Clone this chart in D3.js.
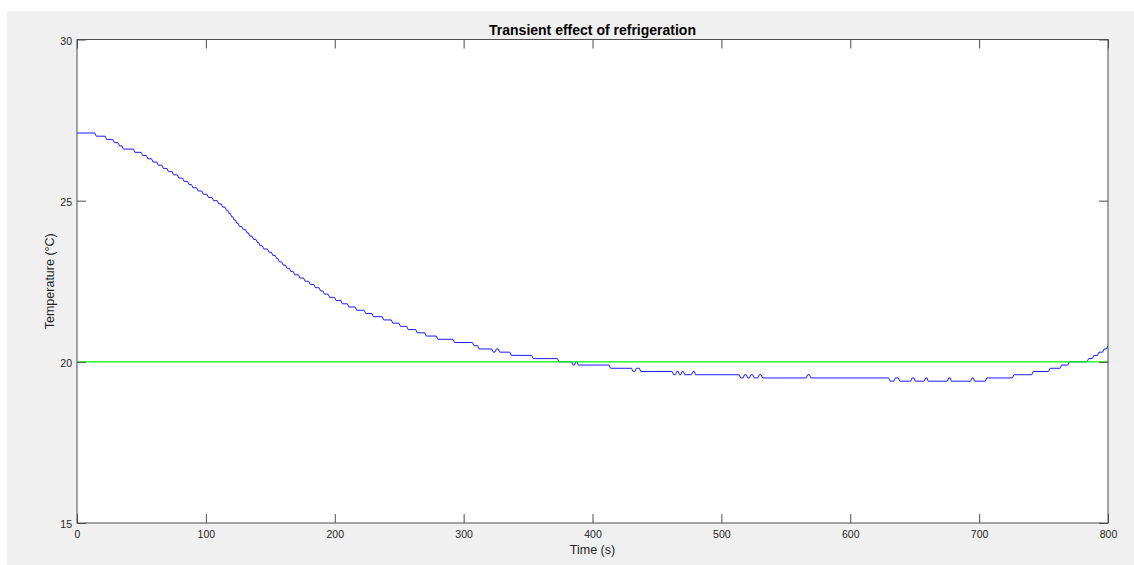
<!DOCTYPE html>
<html>
<head>
<meta charset="utf-8">
<script src="https://cdn.jsdelivr.net/npm/d3@7"></script>
<style>
  html, body { margin: 0; padding: 0; background: #ffffff; }
  svg { display: block; }
</style>
</head>
<body>
<svg id="chart" width="1134" height="565"></svg>
<script>
// ---- data ----
const title = "Transient effect of refrigeration";
const xLabel = "Time (s)";
const yLabel = "Temperature (°C)";
const xTicks = [0, 100, 200, 300, 400, 500, 600, 700, 800];
const yTicks = [15, 20, 25, 30];
const xDomain = [0, 800];
const yDomain = [15, 30];

// measured temperature: start time of each plateau (s) and its value (°C)
const stepTime = [
  0, 15, 23, 29, 33, 36, 45, 51, 55, 59, 63, 67, 71, 75, 79, 83, 87, 90, 94, 98,
  102, 106, 110, 113, 116, 118, 120, 122, 124, 126, 129, 132, 134, 137, 140, 142,
  145, 149, 152, 155, 157, 160, 163, 166, 169, 173, 177, 181, 185, 189, 192, 196,
  201, 206, 211, 217, 224, 230, 238, 245, 251, 257, 264, 271, 280, 293, 308, 312,
  323, 325.5, 328, 337, 354, 374, 385, 387, 389, 414, 431.5, 434, 437.5,
  463, 465.5, 467.5, 469.5, 471.5, 478, 480,
  515, 518, 520.5, 523, 525.5, 529.5, 532, 567, 569.5,
  631, 635, 638.5, 648, 650.5, 658.5, 660.5, 676.5, 678.5, 694.5, 696.5, 706,
  727, 742, 755, 764, 770, 785, 789, 793, 797, 800
];
const stepTemp = [
  27.1, 27.0, 26.9, 26.8, 26.7, 26.6, 26.5, 26.4, 26.3, 26.2, 26.1, 26.0, 25.9, 25.8, 25.7, 25.6, 25.5, 25.4, 25.3, 25.2,
  25.1, 25.0, 24.9, 24.8, 24.7, 24.6, 24.5, 24.4, 24.3, 24.2, 24.1, 24.0, 23.9, 23.8, 23.7, 23.6,
  23.5, 23.4, 23.3, 23.2, 23.1, 23.0, 22.9, 22.8, 22.7, 22.6, 22.5, 22.4, 22.3, 22.2, 22.1, 22.0,
  21.9, 21.8, 21.7, 21.6, 21.5, 21.4, 21.3, 21.2, 21.1, 21.0, 20.9, 20.8, 20.7, 20.6, 20.5, 20.4,
  20.3, 20.4, 20.3, 20.2, 20.1, 20.0, 19.9, 20.0, 19.9, 19.8, 19.7, 19.8, 19.7,
  19.6, 19.7, 19.6, 19.7, 19.6, 19.7, 19.6,
  19.5, 19.6, 19.5, 19.6, 19.5, 19.6, 19.5, 19.6, 19.5,
  19.4, 19.5, 19.4, 19.5, 19.4, 19.5, 19.4, 19.5, 19.4, 19.5, 19.4, 19.5,
  19.6, 19.7, 19.8, 19.9, 20.0, 20.1, 20.2, 20.3, 20.4, 20.5
];

// reference (set-point) line
const setTime = [0, 800];
const setTemp = [20, 20];

// ---- layout ----
const W = 1134, H = 565;
const plot = { left: 77, top: 39.5, right: 1108, bottom: 523 };

const svg = d3.select("#chart");

// figure background
svg.append("rect").attr("x", 7).attr("y", 11).attr("width", W - 7).attr("height", H - 11)
  .attr("fill", "#f0f0f0");
// axes background
svg.append("rect").attr("x", plot.left).attr("y", plot.top)
  .attr("width", plot.right - plot.left).attr("height", plot.bottom - plot.top)
  .attr("fill", "#ffffff");

const x = d3.scaleLinear().domain(xDomain).range([plot.left, plot.right]);
const y = d3.scaleLinear().domain(yDomain).range([plot.bottom, plot.top]);

// step series -> path points (plateau then short ramp to next level)
const pts = [];
for (let i = 0; i < stepTime.length; i++) {
  pts.push([stepTime[i], stepTemp[i]]);
  if (i < stepTime.length - 1) {
    const gap = stepTime[i + 1] - stepTime[i];
    const d = Math.min(1.2, gap / 2);
    pts.push([stepTime[i + 1] - d, stepTemp[i]]);
  }
}

const line = d3.line().x(d => x(d[0])).y(d => y(d[1]));

svg.append("clipPath").attr("id", "clip").append("rect")
  .attr("x", plot.left).attr("y", plot.top)
  .attr("width", plot.right - plot.left).attr("height", plot.bottom - plot.top);

const g = svg.append("g").attr("clip-path", "url(#clip)");

g.append("path").datum(pts).attr("d", line)
  .attr("fill", "none").attr("stroke", "#0000ff").attr("stroke-width", 0.9);

g.append("path").datum(setTime.map((t, i) => [t, setTemp[i]])).attr("d", line)
  .attr("fill", "none").attr("stroke", "#00ff00").attr("stroke-width", 1.2);

// axes
const axisColor = "#4d4d4d";
const textColor = "#262626";
const tickLen = 9;
const font = "Arial, 'Liberation Sans', Helvetica, sans-serif";

function styleAxis(sel, showLabels) {
  sel.select(".domain").remove();
  sel.selectAll(".tick line").attr("stroke", axisColor).attr("stroke-width", 1);
  sel.selectAll(".tick text").attr("fill", textColor)
    .style("font-family", font).style("font-size", "10.5px");
  if (!showLabels) sel.selectAll(".tick text").remove();
}

const gx = svg.append("g").attr("transform", `translate(0,${plot.bottom})`)
  .call(d3.axisBottom(x).tickValues(xTicks).tickSize(-tickLen).tickPadding(8).tickFormat(d3.format("d")));
styleAxis(gx, true);
gx.selectAll(".tick text").attr("dy", "0.71em").attr("y", 8);
const gxTop = svg.append("g").attr("transform", `translate(0,${plot.top})`)
  .call(d3.axisTop(x).tickValues(xTicks).tickSize(-tickLen));
styleAxis(gxTop, false);

const gy = svg.append("g").attr("transform", `translate(${plot.left},0)`)
  .call(d3.axisLeft(y).tickValues(yTicks).tickSize(-tickLen).tickPadding(5).tickFormat(d3.format("d")));
styleAxis(gy, true);
gy.selectAll(".tick text").attr("dy", "0.45em");
const gyR = svg.append("g").attr("transform", `translate(${plot.right},0)`)
  .call(d3.axisRight(y).tickValues(yTicks).tickSize(-tickLen));
styleAxis(gyR, false);

// frame
svg.append("rect").attr("x", plot.left).attr("y", plot.top)
  .attr("width", plot.right - plot.left).attr("height", plot.bottom - plot.top)
  .attr("fill", "none").attr("stroke", axisColor).attr("stroke-width", 1);

// title and labels
svg.append("text").attr("x", (plot.left + plot.right) / 2).attr("y", 35)
  .attr("text-anchor", "middle").attr("fill", "#000")
  .style("font-family", font).style("font-size", "14px").style("font-weight", "bold")
  .text(title);

svg.append("text").attr("x", (plot.left + plot.right) / 2).attr("y", 554)
  .attr("text-anchor", "middle").attr("fill", textColor)
  .style("font-family", font).style("font-size", "12.5px")
  .text(xLabel);

svg.append("text").attr("transform", `translate(54,${(plot.top + plot.bottom) / 2}) rotate(-90)`)
  .attr("text-anchor", "middle").attr("fill", textColor)
  .style("font-family", font).style("font-size", "12.5px")
  .text(yLabel);
</script>
</body>
</html>
